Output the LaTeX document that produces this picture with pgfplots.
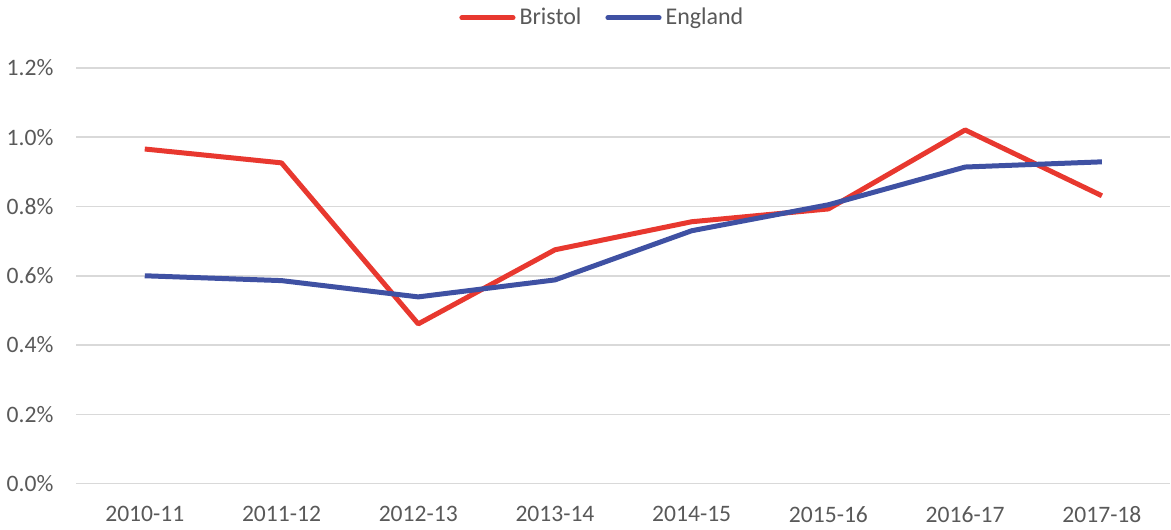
\documentclass[border=0pt]{standalone}
\usepackage{pgfplots}
\pgfplotsset{compat=1.18}
\usepackage{fontspec}
\setmainfont{Carlito}
\definecolor{bristol}{HTML}{E8382F}
\definecolor{england}{HTML}{3F51A3}
\definecolor{txt}{HTML}{595959}
\definecolor{grid}{HTML}{D9D9D9}
\begin{document}
\begin{tikzpicture}
\begin{axis}[
  scale only axis,
  width=547.5pt, height=208pt,
  xmin=-0.5, xmax=7.5, ymin=0, ymax=1.2,
  xtick={0,...,7},
  xticklabels={2010-11,2011-12,2012-13,2013-14,2014-15,2015-16,2016-17,2017-18},
  ytick={0,0.2,...,1.2},
  yticklabel={\pgfmathprintnumber[fixed,fixed zerofill,precision=1]{\tick}\%},
  /pgf/number format/assume math mode=true,
  axis line style={draw=none},
  axis x line*=bottom,
  x axis line style={draw=grid, line width=0.75pt},
  ymajorgrids, grid style={draw=grid, line width=0.75pt},
  major tick length=0pt,
  tick label style={font=\fontsize{11.8}{13}\selectfont, text=txt},
  yticklabel style={xshift=-8pt},
  xticklabel style={yshift=-8pt},
  legend style={at={(0.5,1.0)}, anchor=south, xshift=-10pt, yshift=16pt, draw=none, legend columns=2,
    font=\fontsize{12}{14}\selectfont, text=txt, /tikz/every even column/.append style={column sep=10pt}},
  legend image code/.code={\draw[#1, line width=2.5pt, line cap=round] (0cm,0cm) -- (0.9cm,0cm);},
]
\addplot[bristol, line width=2.5pt, line join=round] coordinates {
(0,0.966) (1,0.926) (2,0.461) (3,0.675) (4,0.756) (5,0.793) (6,1.021) (7,0.831)};
\addlegendentry{Bristol}
\addplot[england, line width=2.5pt, line join=round] coordinates {
(0,0.600) (1,0.586) (2,0.539) (3,0.588) (4,0.730) (5,0.805) (6,0.914) (7,0.929)};
\addlegendentry{England}
\end{axis}
\end{tikzpicture}
\end{document}
